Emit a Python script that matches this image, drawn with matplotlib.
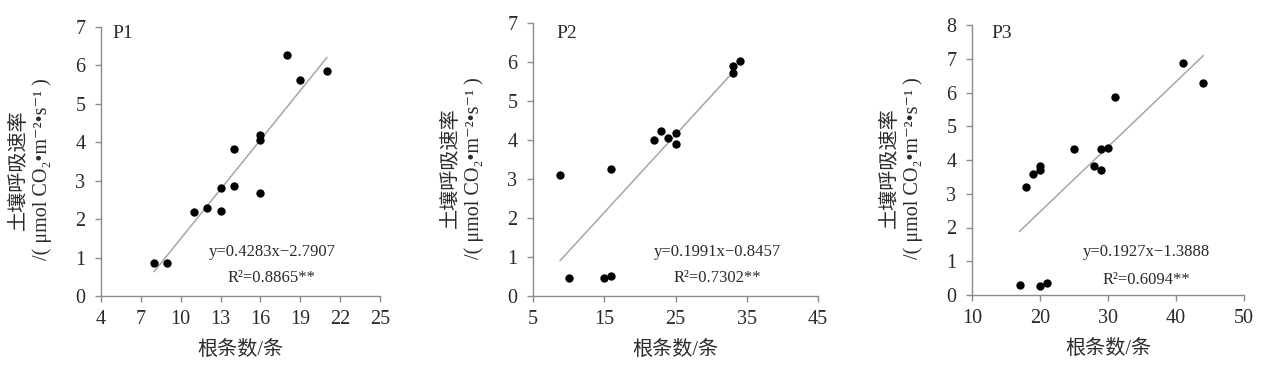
import matplotlib
matplotlib.use("Agg")
import matplotlib.pyplot as plt
import numpy as np

plt.rcParams['font.family'] = ['Liberation Serif', 'Noto Sans CJK SC', 'DejaVu Sans']

# ---- data ----
p1_x = [8, 9, 11, 12, 13, 13, 14, 14, 16, 16, 16, 18, 19, 21]
p1_y = [0.85, 0.85, 2.18, 2.28, 2.80, 2.20, 3.83, 2.85, 4.18, 4.07, 2.67, 6.28, 5.62, 5.85]
p1_fit = (0.4283, -2.7907)
p1_fit_range = (8, 21)

p2_x = [8.8, 10, 15, 16, 16, 22, 23, 24, 25, 25, 33, 33, 34]
p2_y = [3.10, 0.47, 0.47, 0.52, 3.26, 3.99, 4.24, 4.06, 4.17, 3.90, 5.90, 5.71, 6.02]
p2_fit = (0.1991, -0.8457)
p2_fit_range = (8.8, 32.8)

p3_x = [17, 18, 19, 20, 20, 20, 21, 25, 28, 29, 29, 30, 31, 41, 44]
p3_y = [0.31, 3.19, 3.58, 3.81, 3.69, 0.26, 0.37, 4.32, 3.81, 4.32, 3.71, 4.35, 5.88, 6.88, 6.28]
p3_fit = (0.1927, -1.3888)
p3_fit_range = (17, 44)

panel_names = ["P1", "P2", "P3"]
eq_texts = ["y=0.4283x\u22122.7907", "y=0.1991x\u22120.8457", "y=0.1927x\u22121.3888"]
r2_texts = ["R\u00b2=0.8865**", "R\u00b2=0.7302**", "R\u00b2=0.6094**"]
xticks_list = [[4, 7, 10, 13, 16, 19, 22, 25], [5, 15, 25, 35, 45], [10, 20, 30, 40, 50]]
yticks_list = [list(range(0, 8)), list(range(0, 8)), list(range(0, 9))]
xlabel = "根条数/条"
ylabel = "土壤呼吸速率\n/( μmol CO₂•m⁻²•s⁻¹ )"

W, H = 1271, 371
fig = plt.figure(figsize=(W / 100, H / 100), dpi=100)

# axes boxes in pixels: left, right, top, bottom
boxes = [(101, 380, 27, 296), (533, 818, 23, 296), (972, 1244, 25, 295)]
eq_pos = [(272, 252, 278), (717, 252, 278), (1146, 252, 280)]
lab_pos = [(112, 33), (556, 33), (991, 33)]

data = [(p1_x, p1_y, p1_fit, p1_fit_range), (p2_x, p2_y, p2_fit, p2_fit_range),
        (p3_x, p3_y, p3_fit, p3_fit_range)]

spine_col = '#8c8c8c'
text_col = '#2b2b2b'

for i, (xs, ys, fit, fr) in enumerate(data):
    l, r, t, b = boxes[i]
    ax = fig.add_axes([l / W, 1 - b / H, (r - l) / W, (b - t) / H])
    xt = xticks_list[i]
    yt = yticks_list[i]
    ax.set_xlim(xt[0], xt[-1])
    ax.set_ylim(yt[0], yt[-1])
    ax.set_xticks(xt)
    ax.set_yticks(yt)
    for s in ['top', 'right']:
        ax.spines[s].set_visible(False)
    for s in ['left', 'bottom']:
        ax.spines[s].set_color(spine_col)
        ax.spines[s].set_linewidth(1.0)
    ax.tick_params(axis='both', direction='out', length=4.3, width=1.0, color=spine_col,
                   labelsize=14.5, labelcolor=text_col)
    ax.tick_params(axis='y', pad=7)
    ax.tick_params(axis='x', pad=5.5)
    fx = np.array(fr)
    ax.plot(fx, fit[0] * fx + fit[1], color='#a6a6a6', lw=1.1, zorder=2)
    ax.scatter(xs, ys, s=36, color='black', zorder=3, linewidths=0)
    ax.set_xlabel(xlabel, fontsize=14.5, color=text_col, labelpad=9)
    ax.set_ylabel(ylabel, fontsize=14.5, color=text_col, linespacing=1.25)
    ax.yaxis.set_label_coords(-49 / (r - l), 0.47)
    ex, ey, ry = eq_pos[i]
    fig.text(ex / W, 1 - ey / H, eq_texts[i], ha='center', va='center', fontsize=12, color=text_col)
    fig.text(ex / W, 1 - ry / H, r2_texts[i], ha='center', va='center', fontsize=12, color=text_col)
    px, py = lab_pos[i]
    fig.text(px / W, 1 - py / H, panel_names[i], ha='left', va='center', fontsize=14, color=text_col)

fig.savefig("out.png", dpi=100)
